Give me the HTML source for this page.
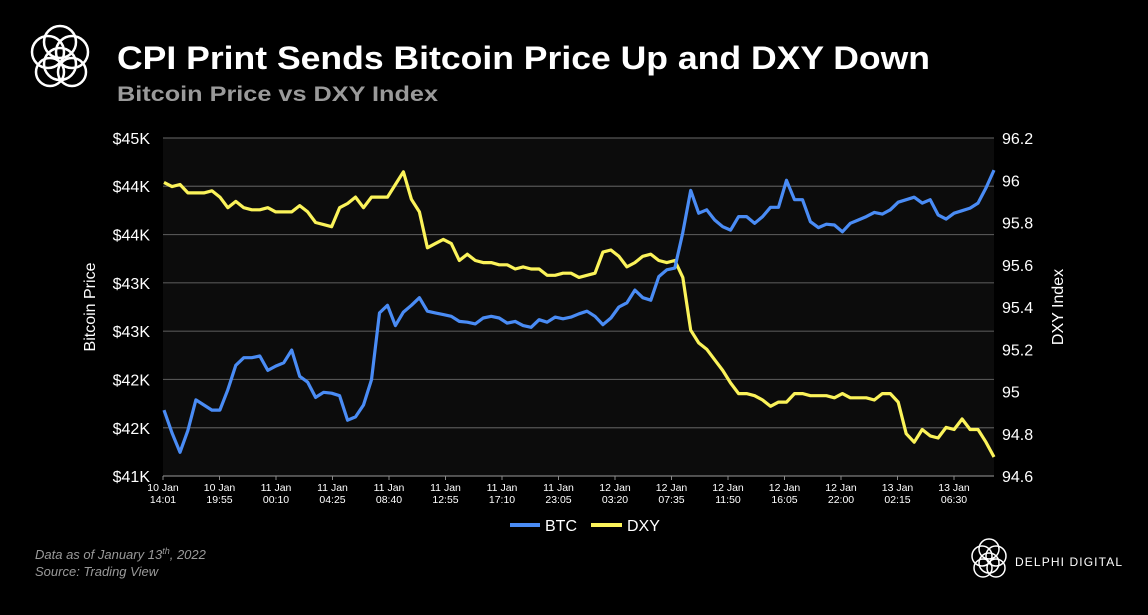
<!DOCTYPE html>
<html><head><meta charset="utf-8"><style>
body{margin:0;background:#000;width:1148px;height:610px;overflow:hidden;font-family:"Liberation Sans",sans-serif}
</style></head><body>
<svg width="1148" height="610" xmlns="http://www.w3.org/2000/svg">
<rect width="1148" height="610" fill="#000"/>
<g fill="none" stroke="#fff" stroke-width="2.5">
<circle cx="48" cy="52" r="16"/><circle cx="72" cy="52" r="16"/><circle cx="60" cy="42" r="16"/>
<circle cx="60" cy="64" r="16"/><circle cx="50" cy="72" r="14"/><circle cx="72" cy="72" r="14"/>
</g>
<text x="117" y="69" fill="#fff" font-size="32" font-weight="bold" textLength="813" lengthAdjust="spacingAndGlyphs">CPI Print Sends Bitcoin Price Up and DXY Down</text>
<text x="117" y="101" fill="#9a9a9a" font-size="21" font-weight="bold" textLength="321" lengthAdjust="spacingAndGlyphs">Bitcoin Price vs DXY Index</text>
<rect x="163" y="138" width="831" height="338" fill="#0c0c0c"/>
<g id="grid"></g><g id="axes"></g><g id="series"></g>
<text transform="translate(95,307) rotate(-90)" text-anchor="middle" fill="#fff" font-size="16">Bitcoin Price</text>
<text transform="translate(1063,307) rotate(-90)" text-anchor="middle" fill="#fff" font-size="16">DXY Index</text>
<g>
<line x1="510" y1="525" x2="540" y2="525" stroke="#4a8cf5" stroke-width="4"/>
<text x="545" y="531" fill="#fff" font-size="16">BTC</text>
<line x1="591" y1="525" x2="622" y2="525" stroke="#fbf35a" stroke-width="4"/>
<text x="627" y="531" fill="#fff" font-size="16">DXY</text>
</g>
<text x="35" y="559" fill="#9a9a9a" font-size="13" font-style="italic">Data as of January 13<tspan font-size="9" dy="-5">th</tspan><tspan dy="5">, 2022</tspan></text>
<text x="35" y="576" fill="#9a9a9a" font-size="13" font-style="italic">Source: Trading View</text>
<g fill="none" stroke="#fff" stroke-width="1.5">
<circle cx="982" cy="556" r="10"/><circle cx="996" cy="556" r="10"/><circle cx="989" cy="549" r="10"/>
<circle cx="989" cy="563" r="10"/><circle cx="983" cy="568" r="9"/><circle cx="996" cy="568" r="9"/>
</g>
<text x="1015" y="566" fill="#fff" font-size="12" textLength="107" lengthAdjust="spacing">DELPHI DIGITAL</text>
</svg>
<script>
const btcValues=[41.78,41.51,41.28,41.54,41.90,41.84,41.78,41.78,42.02,42.31,42.40,42.40,42.42,42.25,42.30,42.34,42.49,42.18,42.11,41.93,41.99,41.98,41.95,41.66,41.70,41.84,42.14,42.93,43.02,42.78,42.94,43.02,43.11,42.95,42.93,42.91,42.89,42.83,42.82,42.80,42.87,42.89,42.87,42.81,42.83,42.78,42.76,42.85,42.82,42.88,42.86,42.88,42.92,42.95,42.89,42.79,42.87,43.00,43.05,43.20,43.11,43.08,43.36,43.44,43.46,43.88,44.38,44.11,44.15,44.03,43.95,43.91,44.07,44.07,43.99,44.07,44.18,44.18,44.50,44.27,44.27,44.01,43.94,43.98,43.97,43.89,43.99,44.03,44.07,44.12,44.10,44.15,44.24,44.27,44.30,44.23,44.27,44.09,44.04,44.11,44.14,44.17,44.23,44.41,44.62];
const dxyValues=[95.99,95.97,95.98,95.94,95.94,95.94,95.95,95.92,95.87,95.90,95.87,95.86,95.86,95.87,95.85,95.85,95.85,95.88,95.85,95.80,95.79,95.78,95.87,95.89,95.92,95.87,95.92,95.92,95.92,95.98,96.04,95.91,95.85,95.68,95.70,95.72,95.70,95.62,95.65,95.62,95.61,95.61,95.60,95.60,95.58,95.59,95.58,95.58,95.55,95.55,95.56,95.56,95.54,95.55,95.56,95.66,95.67,95.64,95.59,95.61,95.64,95.65,95.62,95.61,95.62,95.54,95.29,95.23,95.20,95.15,95.10,95.04,94.99,94.99,94.98,94.96,94.93,94.95,94.95,94.99,94.99,94.98,94.98,94.98,94.97,94.99,94.97,94.97,94.97,94.96,94.99,94.99,94.95,94.80,94.76,94.82,94.79,94.78,94.83,94.82,94.87,94.82,94.82,94.76,94.69];
const leftTickValues=[41000,41571,42143,42714,43286,43857,44429,45000];
const leftTickLabels=["$41K","$42K","$42K","$43K","$43K","$44K","$44K","$45K"];
const rightTickValues=[94.6,94.8,95.0,95.2,95.4,95.6,95.8,96.0,96.2];
const rightTickLabels=["94.6","94.8","95","95.2","95.4","95.6","95.8","96","96.2"];
const xTickDays=["10 Jan","10 Jan","11 Jan","11 Jan","11 Jan","11 Jan","11 Jan","11 Jan","12 Jan","12 Jan","12 Jan","12 Jan","12 Jan","13 Jan","13 Jan"];
const xTickTimes=["14:01","19:55","00:10","04:25","08:40","12:55","17:10","23:05","03:20","07:35","11:50","16:05","22:00","02:15","06:30"];

const NS="http://www.w3.org/2000/svg";
const X0=163,X1=994,Y0=476,Y1=138;
const yL=v=>Y0-(v-41000)/(45000-41000)*(Y0-Y1);
const yR=v=>Y0-(v-94.6)/(96.2-94.6)*(Y0-Y1);
const xIdx=(i,n)=>X0+1+i*(X1-X0-1)/(n-1);
const xTick=i=>X0+i*56.5;
function mk(tag,attrs,parent){const e=document.createElementNS(NS,tag);for(const k in attrs)e.setAttribute(k,attrs[k]);parent.appendChild(e);return e;}
const grid=document.getElementById('grid'),axes=document.getElementById('axes'),series=document.getElementById('series');
leftTickValues.forEach((v,i)=>{
  const y=yL(v);
  const g=mk('line',{x1:X0,x2:X1,y1:y,y2:y,stroke:'#555','stroke-width':1.2},grid);
  
  
  const t=mk('text',{x:150,y:y+6,'text-anchor':'end',fill:'#fff','font-size':16},axes);
  t.textContent=leftTickLabels[i];
  
  
});
rightTickValues.forEach((v,i)=>{
  const t=mk('text',{x:1002,y:yR(v)+6,fill:'#fff','font-size':16},axes);
  t.textContent=rightTickLabels[i];
  
  
});
const ax=mk('line',{x1:X0,x2:X1,y1:Y0,y2:Y0,stroke:'#888','stroke-width':1},axes);


xTickDays.forEach((d,i)=>{
  const x=xTick(i);
  const tk=mk('line',{x1:x,x2:x,y1:Y0,y2:Y0+4,stroke:'#888'},axes);
  
  
  const t=mk('text',{x:x,y:Y0+15,'text-anchor':'middle',fill:'#fff','font-size':10.5},axes);
  
  
  const a=mk('tspan',{x:x,dy:0},t);a.textContent=d;
  const b=mk('tspan',{x:x,dy:12},t);b.textContent=xTickTimes[i];
});
function line(vals,yf,color,name){
  const d=vals.map((v,i)=>(i?'L':'M')+xIdx(i,vals.length).toFixed(1)+','+yf(v).toFixed(1)).join('');
  const p=mk('path',{d:d,fill:'none',stroke:color,'stroke-width':3.2,'stroke-linejoin':'round'},series);
  
  
}
line(dxyValues,yR,'#fbf35a','dxy-line');
line(btcValues.map(v=>v*1000),yL,'#4a8cf5','btc-line');
</script>
</body></html>
